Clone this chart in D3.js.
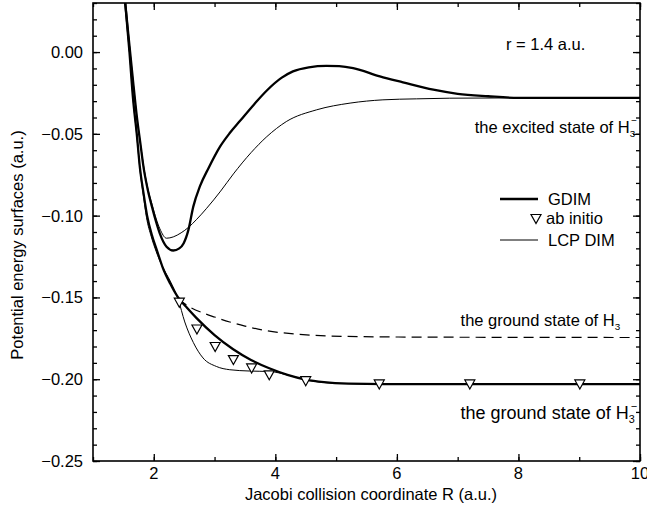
<!DOCTYPE html>
<html>
<head>
<meta charset="utf-8"/>
<script src="https://d3js.org/d3.v7.min.js"></script>
<style>
  body { margin: 0; background: #fff; }
  text { font-family: "Liberation Sans", Arial, sans-serif; fill: #000; }
</style>
</head>
<body>
<script>
// values (R in a.u., energy in a.u.)
var exGdimR = [1.50, 1.53, 1.60, 1.66, 1.72, 1.78, 1.83, 1.90, 1.97, 2.04, 2.10, 2.21, 2.32, 2.42, 2.49, 2.57, 2.65, 2.76, 2.90, 3.09, 3.25, 3.42, 3.65, 3.86, 4.10, 4.29, 4.55, 4.84, 5.05, 5.28, 5.72, 6.10, 6.60, 7.00, 7.50, 8.00, 9.00, 10.0];
var exGdimE = [0.042, 0.030, 0.004, -0.018, -0.039, -0.056, -0.070, -0.084, -0.0945, -0.104, -0.111, -0.119, -0.1213, -0.1200, -0.117, -0.1087, -0.0945, -0.082, -0.071, -0.0578, -0.0495, -0.0420, -0.0320, -0.0235, -0.0158, -0.0118, -0.0093, -0.0084, -0.0086, -0.0098, -0.0149, -0.0185, -0.0230, -0.0255, -0.0270, -0.0280, -0.0280, -0.0280];

var exLcpR = [1.50, 1.53, 1.60, 1.66, 1.72, 1.78, 1.83, 1.90, 1.97, 2.04, 2.10, 2.21, 2.32, 2.45, 2.57, 2.70, 2.87, 3.10, 3.31, 3.60, 3.86, 4.18, 4.68, 5.23, 5.77, 6.32, 6.87, 8.00, 10.0];
var exLcpE = [0.042, 0.030, 0.004, -0.018, -0.039, -0.056, -0.069, -0.083, -0.093, -0.102, -0.108, -0.1138, -0.1130, -0.1105, -0.1072, -0.1025, -0.0955, -0.085, -0.0745, -0.0615, -0.0517, -0.0425, -0.0353, -0.0312, -0.0292, -0.0286, -0.0282, -0.0280, -0.0280];

var gsGdimR = [1.50, 1.53, 1.60, 1.66, 1.72, 1.77, 1.83, 1.89, 1.97, 2.05, 2.15, 2.27, 2.40, 2.55, 2.70, 3.00, 3.30, 3.60, 3.90, 4.20, 4.50, 4.80, 5.20, 5.80, 6.50, 8.00, 10.0];
var gsGdimE = [0.042, 0.030, 0.000, -0.029, -0.050, -0.070, -0.086, -0.100, -0.112, -0.121, -0.132, -0.1415, -0.1500, -0.1565, -0.1625, -0.1730, -0.1815, -0.1882, -0.1933, -0.1973, -0.2002, -0.2018, -0.2027, -0.2030, -0.2030, -0.2030, -0.2030];

var gsLcpR = [1.50, 1.53, 1.60, 1.66, 1.72, 1.77, 1.83, 1.88, 1.96, 2.04, 2.14, 2.27, 2.40, 2.51, 2.65, 2.81, 3.03, 3.25, 3.58, 3.91, 4.24, 4.50, 5.00, 6.00, 8.00, 10.0];
var gsLcpE = [0.042, 0.030, 0.000, -0.029, -0.051, -0.071, -0.088, -0.101, -0.113, -0.122, -0.131, -0.140, -0.151, -0.1650, -0.1775, -0.1870, -0.1922, -0.1942, -0.1950, -0.1953, -0.1978, -0.2003, -0.2025, -0.2030, -0.2030, -0.2030];

var h3R = [2.40, 2.60, 2.81, 3.00, 3.25, 3.50, 3.80, 4.35, 4.90, 6.00, 8.00, 10.0];
var h3E = [-0.151, -0.1560, -0.1595, -0.162, -0.165, -0.1675, -0.170, -0.1724, -0.1736, -0.1742, -0.1744, -0.1745];

var abR = [2.42, 2.71, 3.01, 3.31, 3.61, 3.90, 4.50, 5.71, 7.20, 9.01];
var abE = [-0.1526, -0.169, -0.1797, -0.1877, -0.1928, -0.197, -0.2006, -0.2026, -0.2026, -0.2026];

var xTicks = [2, 4, 6, 8, 10];
var yTicks = [0.00, -0.05, -0.10, -0.15, -0.20, -0.25];

var width = 647, height = 508;
var mL = 93, mR = 640, mT = 3, mB = 461;
var fs = 16.5;

var svg = d3.select("body").append("svg").attr("width", width).attr("height", height);

var x = d3.scaleLinear().domain([1, 10]).range([mL, mR]);
var y = d3.scaleLinear().domain([-0.25, 0.03]).range([mB, mT]);

svg.append("clipPath").attr("id", "plot")
  .append("rect").attr("x", mL).attr("y", mT).attr("width", mR - mL).attr("height", mB - mT);

function zipped(R, E) { return R.map(function (r, i) { return [r, E[i]]; }); }

var line = d3.line().x(function (d) { return x(d[0]); }).y(function (d) { return y(d[1]); })
  .curve(d3.curveMonotoneX);

var g = svg.append("g").attr("clip-path", "url(#plot)");

g.append("path").datum(zipped(exLcpR, exLcpE)).attr("d", line)
  .attr("fill", "none").attr("stroke", "#000").attr("stroke-width", 1);
g.append("path").datum(zipped(gsLcpR, gsLcpE)).attr("d", line)
  .attr("fill", "none").attr("stroke", "#000").attr("stroke-width", 1);
g.append("path").datum(zipped(h3R, h3E)).attr("d", line)
  .attr("fill", "none").attr("stroke", "#000").attr("stroke-width", 1.2).attr("stroke-dasharray", "10,6");
g.append("path").datum(zipped(exGdimR, exGdimE)).attr("d", line)
  .attr("fill", "none").attr("stroke", "#000").attr("stroke-width", 2.3);
g.append("path").datum(zipped(gsGdimR, gsGdimE)).attr("d", line)
  .attr("fill", "none").attr("stroke", "#000").attr("stroke-width", 2.3);

// ab initio triangles
var tri = "M-5,-3.5L5,-3.5L0,5.5Z";
g.selectAll(".ab").data(zipped(abR, abE)).enter().append("path")
  .attr("class", "ab")
  .attr("d", tri)
  .attr("transform", function (d) { return "translate(" + x(d[0]) + "," + y(d[1]) + ")"; })
  .attr("fill", "#fff").attr("stroke", "#000").attr("stroke-width", 1.2);

// tick marks pointing inward on all four sides
function ticks(axisFn, scale, pos, major, minor) {
  [[minor, 4], [major, 7]].forEach(function (p) {
    var a = svg.append("g").attr("transform", pos);
    a.call(axisFn(scale).tickValues(p[0]).tickSize(p[1]).tickFormat(""));
    a.select(".domain").remove();
    a.selectAll("line").attr("stroke", "#000").attr("stroke-width", 1.3);
  });
}

var xMinor = d3.range(1, 10.01, 1), yMinor = d3.range(-0.25, 0.031, 0.01);
var fy = function (d) { return d.toFixed(2).replace("-", "\u2212"); };

ticks(d3.axisTop, x, "translate(0," + mB + ")", xTicks, xMinor);
ticks(d3.axisBottom, x, "translate(0," + mT + ")", xTicks, xMinor);
ticks(d3.axisRight, y, "translate(" + mL + ",0)", yTicks, yMinor);
ticks(d3.axisLeft, y, "translate(" + mR + ",0)", yTicks, yMinor);

xTicks.forEach(function (t) {
  svg.append("text").attr("x", x(t)).attr("y", 479).attr("text-anchor", "middle").attr("font-size", fs).text(t);
});
yTicks.forEach(function (t) {
  svg.append("text").attr("x", 83).attr("y", y(t) + 6).attr("text-anchor", "end").attr("font-size", fs).text(fy(t));
});

svg.append("rect").attr("x", mL).attr("y", mT).attr("width", mR - mL).attr("height", mB - mT)
  .attr("fill", "none").attr("stroke", "#000").attr("stroke-width", 1.6);

// axis titles
svg.append("text").attr("x", 371).attr("y", 500).attr("text-anchor", "middle")
  .attr("font-size", fs).text("Jacobi collision coordinate R (a.u.)");
svg.append("text").attr("transform", "translate(23,245) rotate(-90)")
  .attr("text-anchor", "middle").attr("font-size", fs).text("Potential energy surfaces (a.u.)");

// annotations
svg.append("text").attr("x", 506).attr("y", 50).attr("font-size", fs).text("r = 1.4 a.u.");

function hLabel(xx, yy, size, txt, sup) {
  var t = svg.append("text").attr("x", xx).attr("y", yy).attr("font-size", size).attr("text-anchor", "end");
  t.append("tspan").text(txt + "H");
  t.append("tspan").attr("font-size", size * 0.6).attr("dy", 4).text("3");
  if (sup) t.append("tspan").attr("font-size", size * 0.6).attr("dx", -4).attr("dy", -13).text("\u2212");
  else t.append("tspan").attr("font-size", size * 0.6).attr("dy", -4).text("\u200a");
}
hLabel(637, 133, fs, "the excited state of ", true);
hLabel(621, 326, fs, "the ground state of ", false);
hLabel(637, 419, 18, "the ground state of ", true);

// legend
svg.append("line").attr("x1", 500).attr("x2", 538).attr("y1", 199).attr("y2", 199)
  .attr("stroke", "#000").attr("stroke-width", 2.3);
svg.append("text").attr("x", 548).attr("y", 205).attr("font-size", fs).text("GDIM");
svg.append("path").attr("d", tri).attr("transform", "translate(536,218)")
  .attr("fill", "#fff").attr("stroke", "#000").attr("stroke-width", 1.2);
svg.append("text").attr("x", 546).attr("y", 224).attr("font-size", fs).text("ab initio");
svg.append("line").attr("x1", 500).attr("x2", 538).attr("y1", 240).attr("y2", 240)
  .attr("stroke", "#000").attr("stroke-width", 1);
svg.append("text").attr("x", 548).attr("y", 246).attr("font-size", fs).text("LCP DIM");
</script>
</body>
</html>
